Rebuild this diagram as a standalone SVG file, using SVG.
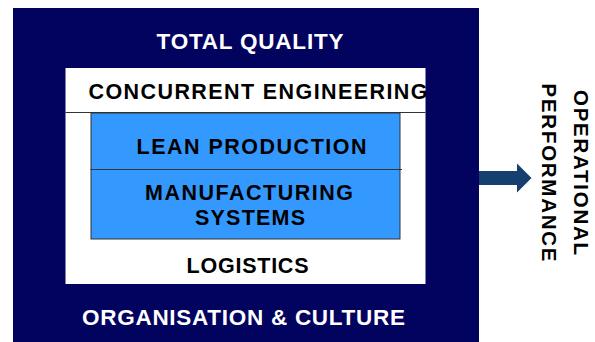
<svg xmlns="http://www.w3.org/2000/svg" width="595" height="342" viewBox="0 0 595 342">
  <style>
    .lbl { font-family: "Liberation Sans", Arial, sans-serif; font-weight: bold; text-anchor: middle; }
    .light { fill: #ffffff; }
    .dark { fill: #000000; }
    .edge { stroke: #333333; stroke-width: 1; }
  </style>
  <rect width="595" height="342" fill="#ffffff"/>

  <!-- outer frame: total quality / organisation & culture -->
  <g id="total-quality">
    <rect x="13" y="8" width="466" height="334" fill="#02025f"/>
    <text class="lbl light" x="250" y="48.5" font-size="22.5" textLength="187" lengthAdjust="spacing">TOTAL QUALITY</text>
    <text class="lbl light" x="243.5" y="325" font-size="22.5" textLength="323" lengthAdjust="spacing">ORGANISATION &amp; CULTURE</text>
  </g>

  <!-- white panel: concurrent engineering / logistics -->
  <g id="concurrent-engineering">
    <rect x="65.5" y="68" width="360" height="216" fill="#ffffff"/>
    <line class="edge" x1="65.5" y1="112.5" x2="425.5" y2="112.5"/>
    <text class="lbl dark" x="258" y="98.5" font-size="21.5" textLength="339" lengthAdjust="spacing">CONCURRENT ENGINEERING</text>
    <text class="lbl dark" x="247.5" y="273" font-size="21.5" textLength="122" lengthAdjust="spacing">LOGISTICS</text>
  </g>

  <!-- blue core: lean production -->
  <g id="lean-production">
    <rect class="edge" x="91" y="113" width="309" height="56.5" fill="#3399ff"/>
    <text class="lbl dark" x="251.5" y="153.5" font-size="21.5" textLength="230" lengthAdjust="spacing">LEAN PRODUCTION</text>
  </g>

  <!-- blue core: manufacturing systems -->
  <g id="manufacturing-systems">
    <rect class="edge" x="91" y="169.5" width="309" height="69.5" fill="#3399ff"/>
    <line class="edge" x1="400" y1="169.5" x2="402" y2="169.5"/>
    <text class="lbl dark" x="249" y="200" font-size="21.5" textLength="208" lengthAdjust="spacing">MANUFACTURING</text>
    <text class="lbl dark" x="250" y="225" font-size="21.5" textLength="110" lengthAdjust="spacing">SYSTEMS</text>
  </g>

  <!-- connector towards the outcome -->
  <g id="connectors">
    <polygon points="479,171 517,171 517,163.5 531.5,178 517,192.5 517,185 479,185" fill="#143f6e"/>
  </g>

  <!-- outcome label, set vertically -->
  <g id="operational-performance">
    <text class="lbl dark" font-size="20.5" transform="translate(573.5,172.5) rotate(90)" x="0" y="0" textLength="165" lengthAdjust="spacing">OPERATIONAL</text>
    <text class="lbl dark" font-size="20.5" transform="translate(542,172.5) rotate(90)" x="0" y="0" textLength="178" lengthAdjust="spacing">PERFORMANCE</text>
  </g>
</svg>
